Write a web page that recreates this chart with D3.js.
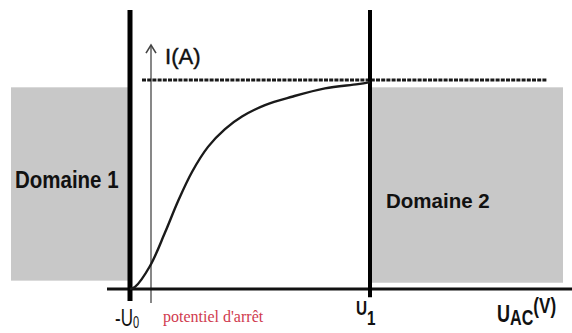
<!DOCTYPE html>
<html lang="fr">
<head>
    <meta charset="UTF-8">
    <script src="https://cdn.jsdelivr.net/npm/d3@7"></script>
    <style>
        body{ margin:0; background:#fff; }
        svg text{ font-family:"Liberation Sans", Arial, sans-serif; fill:#111; }
        .bold{ font-weight:bold; }
    </style>
    <title>I(U) photocellule</title>
</head>
<body>
    <script>
        // courbe I = f(U_AC), U0 = 1, saturation Is = 1
        var uData = [-1, -0.75, 0, 0.75, 1.4, 2.1, 2.9, 3.75, 4.6, 5.75, 7.1, 8.75, 10.4, 11];
        var iData = [0, 0.01, 0.11, 0.27, 0.42, 0.56, 0.68, 0.765, 0.825, 0.88, 0.92, 0.96, 0.98, 0.99];
        var u0 = -1, u1 = 11, iSat = 1;
        var domaines = ["Domaine 1", "Domaine 2"];
        var domaineU = [[-6.95, -1], [11, 20.65]];
        var domaineI = [[0.04, 0.965], [0.03, 0.965]];

        var width = 572, height = 333;
        var x = d3.scaleLinear().domain([-1, 11]).range([130, 370]);
        var y = d3.scaleLinear().domain([0, 1]).range([289, 80]);

        var svg = d3.select("body").append("svg")
            .attr("width", width)
            .attr("height", height);

        // zones grises
        svg.selectAll("rect.dom")
            .data(domaines)
            .enter()
            .append("rect")
            .attr("class", "dom")
            .attr("x", function(d, i){ return x(domaineU[i][0]); })
            .attr("width", function(d, i){ return x(domaineU[i][1]) - x(domaineU[i][0]); })
            .attr("y", function(d, i){ return y(domaineI[i][1]); })
            .attr("height", function(d, i){ return y(domaineI[i][0]) - y(domaineI[i][1]); })
            .attr("fill", "#c8c8c8");

        // axe vertical fin (I)
        svg.append("line")
            .attr("x1", x(0.05)).attr("x2", x(0.05))
            .attr("y1", y(-0.067)).attr("y2", y(1.167))
            .attr("stroke", "#6a6a6a").attr("stroke-width", 1.6);
        svg.append("path")
            .attr("d", "M" + (x(0.05) - 5) + "," + (y(1.167) + 8) + "L" + x(0.05) + "," + y(1.167) + "L" + (x(0.05) + 5) + "," + (y(1.167) + 8))
            .attr("fill", "none").attr("stroke", "#444").attr("stroke-width", 1.6);

        // courant de saturation
        svg.append("line")
            .attr("x1", x(-0.4)).attr("x2", x(19.85))
            .attr("y1", y(iSat)).attr("y2", y(iSat))
            .attr("stroke", "#1a1a1a").attr("stroke-width", 3)
            .attr("stroke-dasharray", "4,1.2");

        // axe U_AC
        svg.append("line")
            .attr("x1", x(-2.15)).attr("x2", x(21.9))
            .attr("y1", y(0)).attr("y2", y(0))
            .attr("stroke", "#111").attr("stroke-width", 3);
        svg.append("path")
            .attr("d", "M" + (x(21.9) - 7) + "," + (y(0) - 5) + "L" + x(22) + "," + y(0) + "L" + (x(21.9) - 7) + "," + (y(0) + 5))
            .attr("fill", "none").attr("stroke", "#111").attr("stroke-width", 2.5);

        // traits -U0 et U1
        svg.append("line")
            .attr("x1", x(u0)).attr("x2", x(u0))
            .attr("y1", y(1.335)).attr("y2", y(-0.057))
            .attr("stroke", "#000").attr("stroke-width", 5);
        svg.append("line")
            .attr("x1", x(u1)).attr("x2", x(u1))
            .attr("y1", y(1.335)).attr("y2", y(-0.04))
            .attr("stroke", "#000").attr("stroke-width", 4);

        // courbe
        var line = d3.line()
            .x(function(d){ return x(d[0]); })
            .y(function(d){ return y(d[1]); })
            .curve(d3.curveCatmullRom.alpha(0.5));
        svg.append("path")
            .datum(d3.zip(uData, iData))
            .attr("d", line)
            .attr("fill", "none")
            .attr("stroke", "#1a1a1a")
            .attr("stroke-width", 2.4);

        // textes
        svg.append("text")
            .attr("transform", "translate(165,64) scale(1.05,1.05)")
            .style("font-size", "21px")
            .style("stroke", "#111").style("stroke-width", 0.4)
            .text("I(A)");

        svg.append("text")
            .attr("class", "bold")
            .attr("transform", "translate(15,188) scale(1,1.2)")
            .style("font-size", "20.5px")
            .text(domaines[0]);
        svg.append("text")
            .attr("class", "bold")
            .attr("transform", "translate(386,208)")
            .style("font-size", "20.5px")
            .text(domaines[1]);

        var t0 = svg.append("text")
            .attr("transform", "translate(115,326) scale(0.85,1.2)")
            .style("font-size", "20px");
        t0.append("tspan").text("-U");
        t0.append("tspan").attr("dy", 2).style("font-size", "13px").text("0");

        svg.append("text")
            .attr("x", 163).attr("y", 322)
            .style("font-family", "'Liberation Serif', 'Times New Roman', serif")
            .style("font-size", "16px")
            .style("fill", "#d03a4e")
            .text("potentiel d'arrêt");

        var t1 = svg.append("text")
            .attr("class", "bold")
            .attr("transform", "translate(356,315) scale(0.85,1.15)")
            .style("font-size", "18px");
        t1.append("tspan").text("U");
        t1.append("tspan").attr("dy", 9).text("1");

        var tu = svg.append("text")
            .attr("class", "bold")
            .attr("transform", "translate(497,322) scale(0.95,1.25)")
            .style("font-size", "19px");
        tu.append("tspan").text("U");
        tu.append("tspan").attr("dy", 2).style("font-size", "17px").text("AC");
        tu.append("tspan").attr("dy", -9).style("font-size", "18px").text("(V)");
    </script>
</body>
</html>
